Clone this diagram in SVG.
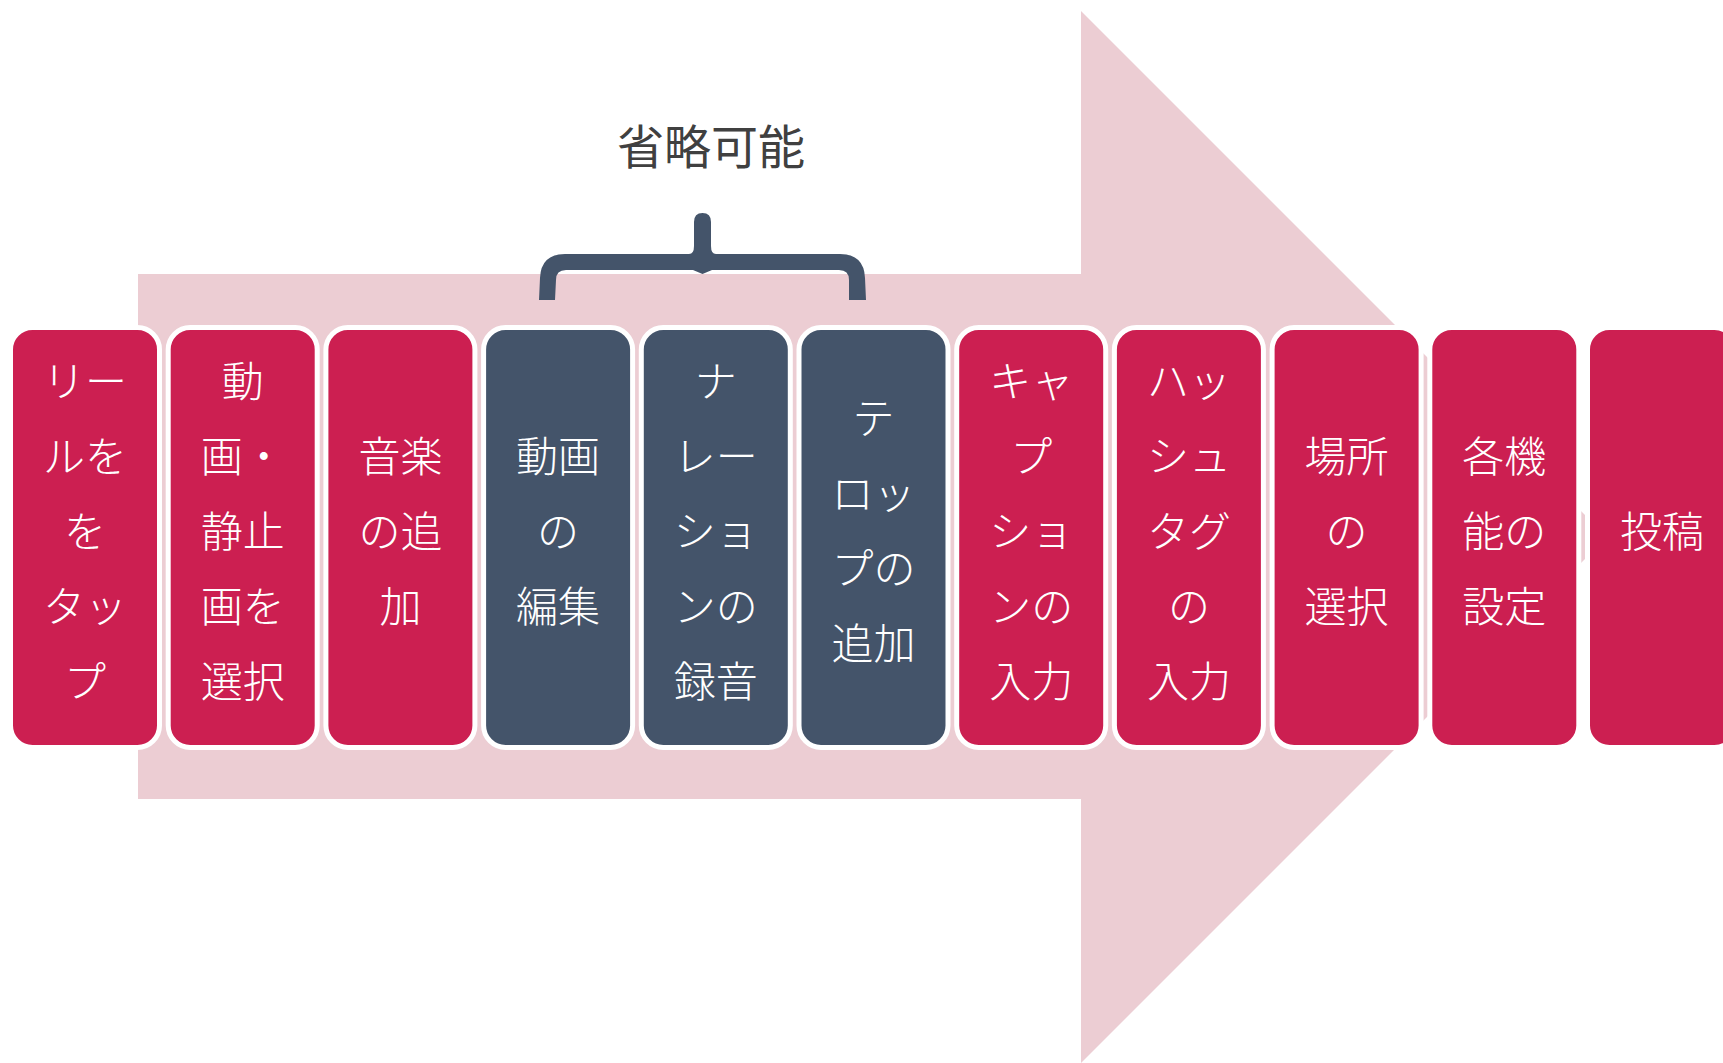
<svg xmlns="http://www.w3.org/2000/svg" width="1723" height="1063" viewBox="0 0 1723 1063">
<style>
.box{stroke:#ffffff;stroke-width:5}
.red{fill:#CC1F51}
.dark{fill:#44546A}
.t{font-family:"Noto Sans CJK JP","Noto Sans",sans-serif;font-size:42px;font-weight:300;fill:#ffffff;text-anchor:middle;dominant-baseline:central}
.title{font-family:"Noto Sans CJK JP","Noto Sans",sans-serif;font-size:47px;fill:#404040;text-anchor:middle;dominant-baseline:central}
</style>
<rect width="1723" height="1063" fill="#ffffff"/>
<g id="arrow">
<polygon points="138,274 1081,274 1081,11 1607,537 1081,1063 1081,799 138,799" fill="#ECCDD3"/>
</g>
<g id="brace-label">
<text class="title" x="711" y="143">省略可能</text>
</g>
<g id="connectors">
<path d="M539 300 L540 278 Q541 254 565 254 L689 254 Q694 254 694 246 L694 222 Q694 213 702.5 213 Q711 213 711 222 L711 246 Q711 254 716 254 L840 254 Q864 254 865 278 L866 300 L849 300 L849 280 Q849 270 839 270 L712 270 L702.5 274 L693 270 L566 270 Q556 270 556 280 L555 300 Z" fill="#44546A"/>
</g>
<g id="n1"><rect class="box red" x="10.5" y="327.5" width="149" height="420" rx="22"/>
<text class="t" x="85" y="378">リー</text><text class="t" x="85" y="453">ルを</text><text class="t" x="85" y="528">を</text><text class="t" x="85" y="603">タッ</text><text class="t" x="85" y="678">プ</text></g>
<g id="n2"><rect class="box red" x="168.2" y="327.5" width="149" height="420" rx="22"/>
<text class="t" x="242.7" y="378">動</text><text class="t" x="242.7" y="453">画・</text><text class="t" x="242.7" y="528">静止</text><text class="t" x="242.7" y="603">画を</text><text class="t" x="242.7" y="678">選択</text></g>
<g id="n3"><rect class="box red" x="325.9" y="327.5" width="149" height="420" rx="22"/>
<text class="t" x="400.4" y="453">音楽</text><text class="t" x="400.4" y="528">の追</text><text class="t" x="400.4" y="603">加</text></g>
<g id="n4"><rect class="box dark" x="483.6" y="327.5" width="149" height="420" rx="22"/>
<text class="t" x="558.1" y="453">動画</text><text class="t" x="558.1" y="528">の</text><text class="t" x="558.1" y="603">編集</text></g>
<g id="n5"><rect class="box dark" x="641.3" y="327.5" width="149" height="420" rx="22"/>
<text class="t" x="715.8" y="378">ナ</text><text class="t" x="715.8" y="453">レー</text><text class="t" x="715.8" y="528">ショ</text><text class="t" x="715.8" y="603">ンの</text><text class="t" x="715.8" y="678">録音</text></g>
<g id="n6"><rect class="box dark" x="799" y="327.5" width="149" height="420" rx="22"/>
<text class="t" x="873.5" y="415.5">テ</text><text class="t" x="873.5" y="490.5">ロッ</text><text class="t" x="873.5" y="565.5">プの</text><text class="t" x="873.5" y="640.5">追加</text></g>
<g id="n7"><rect class="box red" x="956.7" y="327.5" width="149" height="420" rx="22"/>
<text class="t" x="1031.2" y="378">キャ</text><text class="t" x="1031.2" y="453">プ</text><text class="t" x="1031.2" y="528">ショ</text><text class="t" x="1031.2" y="603">ンの</text><text class="t" x="1031.2" y="678">入力</text></g>
<g id="n8"><rect class="box red" x="1114.4" y="327.5" width="149" height="420" rx="22"/>
<text class="t" x="1188.9" y="378">ハッ</text><text class="t" x="1188.9" y="453">シュ</text><text class="t" x="1188.9" y="528">タグ</text><text class="t" x="1188.9" y="603">の</text><text class="t" x="1188.9" y="678">入力</text></g>
<g id="n9"><rect class="box red" x="1272.1" y="327.5" width="149" height="420" rx="22"/>
<text class="t" x="1346.6" y="453">場所</text><text class="t" x="1346.6" y="528">の</text><text class="t" x="1346.6" y="603">選択</text></g>
<g id="n10"><rect class="box red" x="1429.8" y="327.5" width="149" height="420" rx="22"/>
<text class="t" x="1504.3" y="453">各機</text><text class="t" x="1504.3" y="528">能の</text><text class="t" x="1504.3" y="603">設定</text></g>
<g id="n11"><rect class="box red" x="1587.5" y="327.5" width="149" height="420" rx="22"/>
<text class="t" x="1662" y="528">投稿</text></g>
</svg>
